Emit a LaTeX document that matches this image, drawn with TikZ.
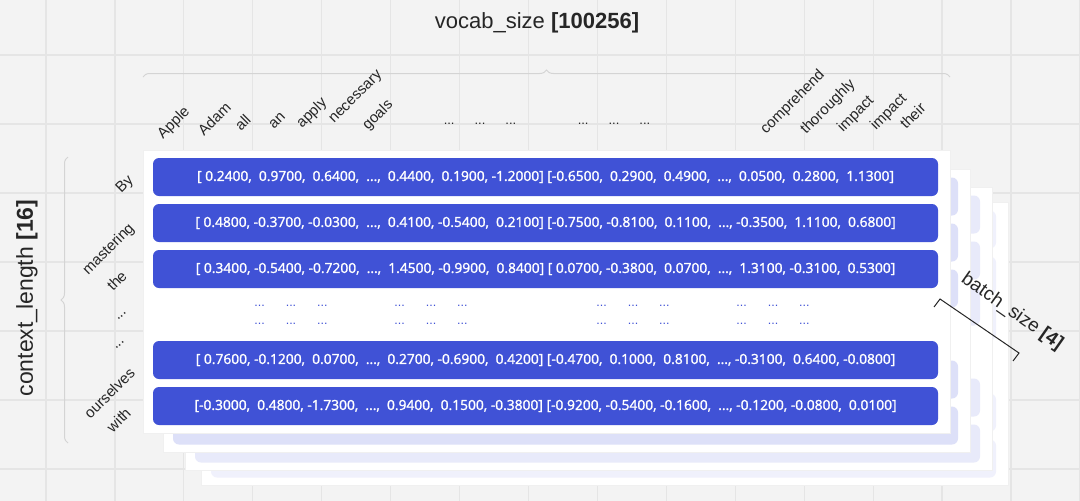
\documentclass[tikz,border=0pt]{standalone}
\usepackage{fontspec}
\setmainfont{Liberation Sans}
\newfontfamily\barfont{Open Sans}[FakeBold=1.6]
\usetikzlibrary{decorations.pathreplacing,positioning}
\definecolor{barblue}{RGB}{64,82,214}
\definecolor{paper}{RGB}{243,243,243}
\definecolor{gridgray}{RGB}{229,229,229}
\definecolor{bracegray}{RGB}{212,212,212}
\definecolor{inkgray}{RGB}{38,38,38}

\tikzset{
  vec/.style={fill=barblue, rounded corners=6pt, minimum width=785pt, minimum height=38pt,
    inner sep=0pt, text=white, font=\barfont\fontsize{13.8}{14}\selectfont},
  ghost/.style={fill=barblue!#1, rounded corners=6pt, minimum width=785pt, minimum height=38pt},
  sheet/.style={fill=white, draw=black!6, minimum width=807pt, minimum height=283pt, inner sep=0pt},
  word/.style={rotate=45, anchor=base west, inner sep=0pt, text=inkgray, font=\fontsize{15}{15}\selectfont},
  tok/.style={rotate=45, anchor=base east, inner sep=0pt, text=inkgray, font=\fontsize{15}{15}\selectfont},
  gap/.style={text=barblue, font=\fontsize{12.5}{12}\selectfont},
  axis/.style={text=inkgray, font=\fontsize{22}{22}\selectfont},
  curly/.style={draw=bracegray, line width=1pt, decorate, decoration={brace, amplitude=7pt}}
}

\begin{document}
\begin{tikzpicture}[x=1pt, y=-1pt]
\useasboundingbox[fill=paper] (0,0) rectangle (1080,501);
\foreach \gx in {0,...,15}
  \draw[gridgray, line width=1.2pt] (46+68.93*\gx,0) -- (46+68.93*\gx,501);
\foreach \gy in {-1,...,6}
  \draw[gridgray, line width=1.2pt] (0,55+69*\gy) -- (1080,55+69*\gy);

% stacked batches
\foreach \dx/\dy/\op [count=\i] in {58/52.5/8, 42/37.5/12, 20/19.5/18}{
  \node[sheet] (S\i) at (546.5+\dx,291.5+\dy) {};
  \foreach \r [count=\j] in {-114.5,-68.5,-22.5,68.5,114.5}
    \node[ghost=\op] (G\i\j) at (545.5+\dx,291.5+\dy+\r) {};
}
\node[sheet] (S0) at (546.5,291.5) {};

\node[vec] (R1) at (545.5,177) {[~0.2400,~~0.9700,~~0.6400,~~...,~~0.4400,~~0.1900, -1.2000] [-0.6500,~~0.2900,~~0.4900,~~...,~~0.0500,~~0.2800,~~1.1300]};
\node[vec, below of=R1, node distance=46pt] (R2) {[~0.4800, -0.3700, -0.0300,~~...,~~0.4100, -0.5400,~~0.2100] [-0.7500, -0.8100,~~0.1100,~~..., -0.3500,~~1.1100,~~0.6800]};
\node[vec, below of=R2, node distance=46pt] (R3) {[~0.3400, -0.5400, -0.7200,~~...,~~1.4500, -0.9900,~~0.8400] [~0.0700, -0.3800,~~0.0700,~~...,~~1.3100, -0.3100,~~0.5300]};
\node[vec, below of=R3, node distance=91pt] (R4) {[~0.7600, -0.1200,~~0.0700,~~...,~~0.2700, -0.6900,~~0.4200] [-0.4700,~~0.1000,~~0.8100,~~..., -0.3100,~~0.6400, -0.0800]};
\node[vec, below of=R4, node distance=46pt] (R5) {[-0.3000,~~0.4800, -1.7300,~~...,~~0.9400,~~0.1500, -0.3800] [-0.9200, -0.5400, -0.1600,~~..., -0.1200, -0.0800,~~0.0100]};

\foreach \cx [count=\k] in {291,431,633,773}{
  \node[gap] (DA\k) at (\cx,306) {...\hspace{21pt}...\hspace{21pt}...};
  \node[gap] (DB\k) at (\cx,324) {...\hspace{21pt}...\hspace{21pt}...};
}

% vocab axis
\node[axis] (VT) at (537,23) {vocab\_size \textbf{[100256]}};
\coordinate (TB1) at (143,77);
\coordinate (TB2) at (950,77);
\draw[curly] (TB1) -- (TB2);

\node[word] (W1) at (163,140) {Apple};
\node[word] (W2) at (204,137) {Adam};
\node[word] (W3) at (241,132) {all};
\node[word] (W4) at (274,130) {an};
\node[word] (W5) at (302,129) {apply};
\node[word] (W6) at (334,124) {necessary};
\node[word] (W7) at (368,131) {goals};
\node[text=inkgray, font=\fontsize{13}{13}\selectfont] (WD1) at (480,124) {...\hspace{20pt}...\hspace{20pt}...};
\node[text=inkgray, font=\fontsize{13}{13}\selectfont] (WD2) at (614,124) {...\hspace{20pt}...\hspace{20pt}...};
\node[word] (W8) at (766,135) {comprehend};
\node[word] (W9) at (806,135) {thoroughly};
\node[word] (W10) at (843,133) {impact};
\node[word] (W11) at (876,131) {impact};
\node[word] (W12) at (906,130) {their};

% context axis
\node[axis, rotate=90, font=\fontsize{23}{23}\selectfont] (CT) at (27,298) {context\_length \textbf{[16]}};
\coordinate (LB1) at (68,443);
\coordinate (LB2) at (68,157);
\draw[curly] (LB1) -- (LB2);

\node[tok] (T1) at (134,181) {By};
\node[tok] (T2) at (135,229) {mastering};
\node[tok] (T3) at (128,277) {the};
\node[tok] (T4) at (127,312) {...};
\node[tok] (T5) at (125,341) {...};
\node[tok] (T6) at (136,374) {ourselves};
\node[tok] (T7) at (132,414) {with};

% batch axis
\coordinate (BK1) at (940,299);
\coordinate (BK2) at (1019,353);
\draw[inkgray, line width=1pt] (BK1) ++(-6,8) -- (BK1) -- (BK2) -- ++(-6,8);
\node[axis, rotate=-35, font=\fontsize{19}{19}\selectfont] (BT) at (1012,312) {batch\_size \textbf{[4]}};
\end{tikzpicture}
\end{document}
